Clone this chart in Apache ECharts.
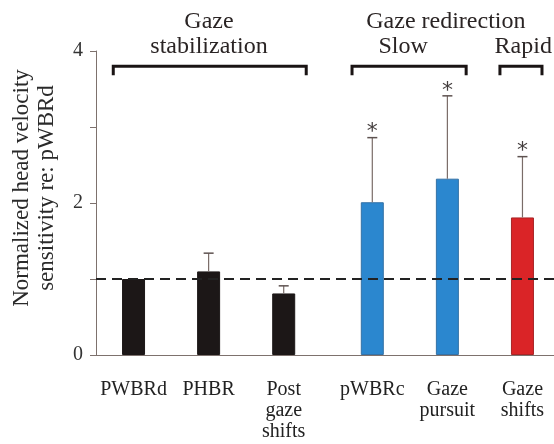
<!DOCTYPE html>
<html><head><meta charset="utf-8">
<script src="https://cdn.jsdelivr.net/npm/echarts@6/dist/echarts.min.js"></script>
<style>html,body{margin:0;padding:0;background:#fff}#c{width:554px;height:444px}</style>
</head><body><div id="c"></div>
<script>
// ---- data ----
const categories = ['PWBRd', 'PHBR', 'Post\ngaze\nshifts', 'pWBRc', 'Gaze\npursuit', 'Gaze\nshifts'];
const xPositions = [0.5, 1.5, 2.5, 3.68, 4.68, 5.68];
const values = [1.0, 1.10, 0.81, 2.01, 2.32, 1.81];
const errors = [0, 0.24, 0.10, 0.85, 1.09, 0.80];
const significant = [false, false, false, true, true, true];
const groups = ['stab', 'stab', 'stab', 'slow', 'slow', 'rapid'];
const yTicks = [0, 1, 2, 3, 4];
const yTickLabels = ['0', '', '2', '', '4'];
const referenceLevel = 1;
const bracketRanges = [[0.23, 2.80], [3.41, 4.93], [5.38, 5.94]];
const bracketLevel = 3.80;
const headerTexts = ['Gaze', 'stabilization', 'Gaze redirection', 'Slow', 'Rapid'];
const headerX = [1.505, 1.505, 4.66, 4.09, 5.69];
const headerY = [4.38, 4.05, 4.38, 4.05, 4.05];

// ---- style ----
const FONT = 'Liberation Serif';
const fills = { stab: '#1c1717', slow: '#2b87cf', rapid: '#da2427' };
const borders = { stab: '#1c1717', slow: '#3471a6', rapid: '#a82426' };
const axisColor = '#7d716d';

const chart = echarts.init(document.getElementById('c'), null, { renderer: 'canvas' });

const option = {
  animation: false,
  backgroundColor: '#fff',
  grid: { left: 96, right: 0, top: 51, bottom: 89, containLabel: false },
  xAxis: {
    type: 'value', min: 0, max: 6.1,
    axisLine: { show: true, lineStyle: { color: axisColor, width: 1 } },
    axisTick: { show: false }, axisLabel: { show: false }, splitLine: { show: false }
  },
  yAxis: {
    type: 'value', min: yTicks[0], max: yTicks[yTicks.length - 1], interval: 1,
    name: 'Normalized head velocity\nsensitivity re: pWBRd',
    nameLocation: 'middle', nameRotate: 90, nameGap: 37,
    nameTextStyle: { fontFamily: FONT, fontSize: 23, lineHeight: 25, color: '#2a2a2a', padding: [0, 0, 0, 30] },
    axisLine: { show: true, lineStyle: { color: axisColor, width: 1 } },
    axisTick: { show: true, inside: false, length: 6, lineStyle: { color: axisColor } },
    axisLabel: {
      fontFamily: FONT, fontSize: 20, color: '#333', margin: 13,
      formatter: v => yTickLabels[yTicks.indexOf(v)] ?? ''
    },
    splitLine: { show: false }
  },
  series: [
    {
      type: 'bar', barWidth: 23, z: 2,
      data: xPositions.map((x, i) => ({
        value: [x, values[i]],
        itemStyle: { color: fills[groups[i]], borderColor: borders[groups[i]], borderWidth: 1 }
      })),
      markLine: {
        silent: true, symbol: ['none', 'none'], label: { show: false },
        lineStyle: { type: [10, 6], width: 2, color: '#222' },
        data: [{ yAxis: referenceLevel }]
      }
    },
    {
      type: 'custom', z: 3, clip: false,
      data: xPositions.map((x, i) => [x, values[i], values[i] + errors[i], significant[i] ? 1 : 0]),
      encode: { x: 0, y: [1, 2] },
      renderItem: (params, api) => {
        const x = api.value(0), v = api.value(1), t = api.value(2), s = api.value(3);
        const children = [];
        const pTop = api.coord([x, t]);
        if (t > v) {
          const pBot = api.coord([x, v]);
          children.push({ type: 'line', shape: { x1: pTop[0], y1: pTop[1], x2: pBot[0], y2: pBot[1] },
            style: { stroke: '#7a6c68', lineWidth: 1.2 } });
          children.push({ type: 'line', shape: { x1: pTop[0] - 5, y1: pTop[1], x2: pTop[0] + 5, y2: pTop[1] },
            style: { stroke: '#5e5250', lineWidth: 1.5 } });
        }
        if (s) {
          children.push({ type: 'text', style: { text: '*', x: pTop[0], y: pTop[1] - 5,
            align: 'center', verticalAlign: 'middle', fontFamily: 'DejaVu Sans', fontSize: 22, fill: '#453f3f' } });
        }
        return { type: 'group', children };
      }
    },
    {
      type: 'custom', z: 3, clip: false, silent: true,
      data: categories.map((c, i) => [xPositions[i], 0, i]),
      encode: { x: 0, y: 1 },
      renderItem: (params, api) => {
        const p = api.coord([api.value(0), 0]);
        return { type: 'text', style: { text: categories[api.value(2)], x: p[0], y: p[1] + 24,
          align: 'center', verticalAlign: 'top', fontFamily: FONT, fontSize: 20, lineHeight: 21, fill: '#222' } };
      }
    },
    {
      type: 'custom', z: 3, clip: false, silent: true,
      data: bracketRanges.map((r) => [r[0], r[1], bracketLevel]),
      encode: { x: [0, 1], y: 2 },
      renderItem: (params, api) => {
        const a = api.coord([api.value(0), api.value(2)]);
        const b = api.coord([api.value(1), api.value(2)]);
        return { type: 'polyline', shape: { points: [[a[0], a[1] + 9], [a[0], a[1]], [b[0], b[1]], [b[0], b[1] + 9]] },
          style: { stroke: '#1a1414', lineWidth: 3, fill: null, lineJoin: 'miter' } };
      }
    },
    {
      type: 'custom', z: 3, clip: false, silent: true,
      data: headerTexts.map((t, i) => [headerX[i], headerY[i], i]),
      encode: { x: 0, y: 1 },
      renderItem: (params, api) => {
        const p = api.coord([api.value(0), api.value(1)]);
        return { type: 'text', style: { text: headerTexts[api.value(2)], x: p[0], y: p[1],
          align: 'center', verticalAlign: 'middle', fontFamily: FONT, fontSize: 24, fill: '#2a2424' } };
      }
    }
  ]
};
chart.setOption(option);
</script>
</body></html>
